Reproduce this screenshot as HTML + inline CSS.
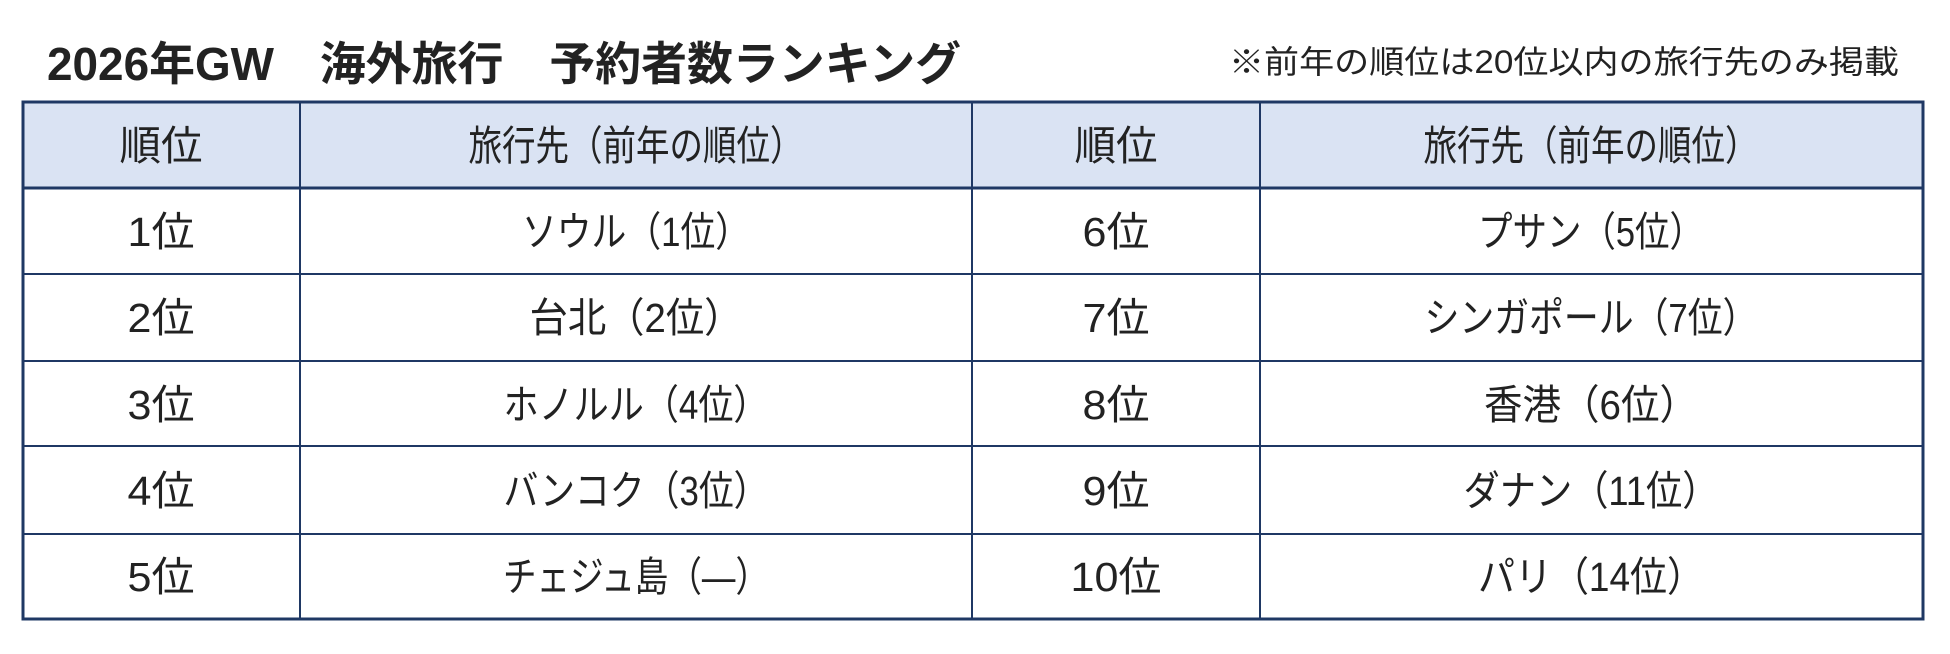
<!DOCTYPE html>
<html><head><meta charset="utf-8"><style>
html,body{margin:0;padding:0;background:#fff;width:1950px;height:654px;overflow:hidden}
svg{display:block}
text{font-family:"Liberation Sans","Noto Sans CJK JP",sans-serif;fill:#222}
</style></head><body>
<svg width="1950" height="654" viewBox="0 0 1950 654">
<text x="47" y="80" font-size="46" font-weight="bold" textLength="914" lengthAdjust="spacingAndGlyphs">2026年GW　海外旅行　予約者数ランキング</text>
<text x="1229" y="73" font-size="32" textLength="670" lengthAdjust="spacingAndGlyphs">※前年の順位は20位以内の旅行先のみ掲載</text>
<rect x="23" y="102" width="1900" height="86" fill="#dae3f3"/>
<g stroke="#1f3864" stroke-width="3" fill="none">
<rect x="23" y="102" width="1900" height="517"/>
<line x1="23" y1="188" x2="1923" y2="188"/>
<line x1="23" y1="274" x2="1923" y2="274" stroke-width="2"/>
<line x1="23" y1="361" x2="1923" y2="361" stroke-width="2"/>
<line x1="23" y1="446" x2="1923" y2="446" stroke-width="2"/>
<line x1="23" y1="534" x2="1923" y2="534" stroke-width="2"/>
<line x1="300" y1="102" x2="300" y2="619" stroke-width="2"/>
<line x1="972" y1="102" x2="972" y2="619" stroke-width="2"/>
<line x1="1260" y1="102" x2="1260" y2="619" stroke-width="2"/>
</g>
<g font-size="41" text-anchor="middle" lengthAdjust="spacingAndGlyphs">
<text x="161" y="160" textLength="83" lengthAdjust="spacingAndGlyphs">順位</text>
<text x="636" y="160" textLength="335" lengthAdjust="spacingAndGlyphs">旅行先（前年の順位）</text>
<text x="1116" y="160" textLength="83" lengthAdjust="spacingAndGlyphs">順位</text>
<text x="1591" y="160" textLength="335" lengthAdjust="spacingAndGlyphs">旅行先（前年の順位）</text>

<text x="161" y="246" textLength="67" lengthAdjust="spacingAndGlyphs">1位</text><text x="636" y="246" textLength="228" lengthAdjust="spacingAndGlyphs">ソウル（1位）</text>
<text x="1116" y="246" textLength="67" lengthAdjust="spacingAndGlyphs">6位</text><text x="1591" y="246" textLength="226" lengthAdjust="spacingAndGlyphs">プサン（5位）</text>
<text x="161" y="332" textLength="67" lengthAdjust="spacingAndGlyphs">2位</text><text x="636" y="332" textLength="213" lengthAdjust="spacingAndGlyphs">台北（2位）</text>
<text x="1116" y="332" textLength="67" lengthAdjust="spacingAndGlyphs">7位</text><text x="1591" y="332" textLength="333" lengthAdjust="spacingAndGlyphs">シンガポール（7位）</text>
<text x="161" y="419" textLength="67" lengthAdjust="spacingAndGlyphs">3位</text><text x="636" y="419" textLength="265" lengthAdjust="spacingAndGlyphs">ホノルル（4位）</text>
<text x="1116" y="419" textLength="67" lengthAdjust="spacingAndGlyphs">8位</text><text x="1591" y="419" textLength="214" lengthAdjust="spacingAndGlyphs">香港（6位）</text>
<text x="161" y="505" textLength="67" lengthAdjust="spacingAndGlyphs">4位</text><text x="636" y="505" textLength="265" lengthAdjust="spacingAndGlyphs">バンコク（3位）</text>
<text x="1116" y="505" textLength="67" lengthAdjust="spacingAndGlyphs">9位</text><text x="1591" y="505" textLength="255" lengthAdjust="spacingAndGlyphs">ダナン（11位）</text>
<text x="161" y="591" textLength="67" lengthAdjust="spacingAndGlyphs">5位</text><text x="636" y="591" textLength="266" lengthAdjust="spacingAndGlyphs">チェジュ島（—）</text>
<text x="1116" y="591" textLength="91" lengthAdjust="spacingAndGlyphs">10位</text><text x="1591" y="591" textLength="226" lengthAdjust="spacingAndGlyphs">パリ（14位）</text>
</g>
</svg>
</body></html>
